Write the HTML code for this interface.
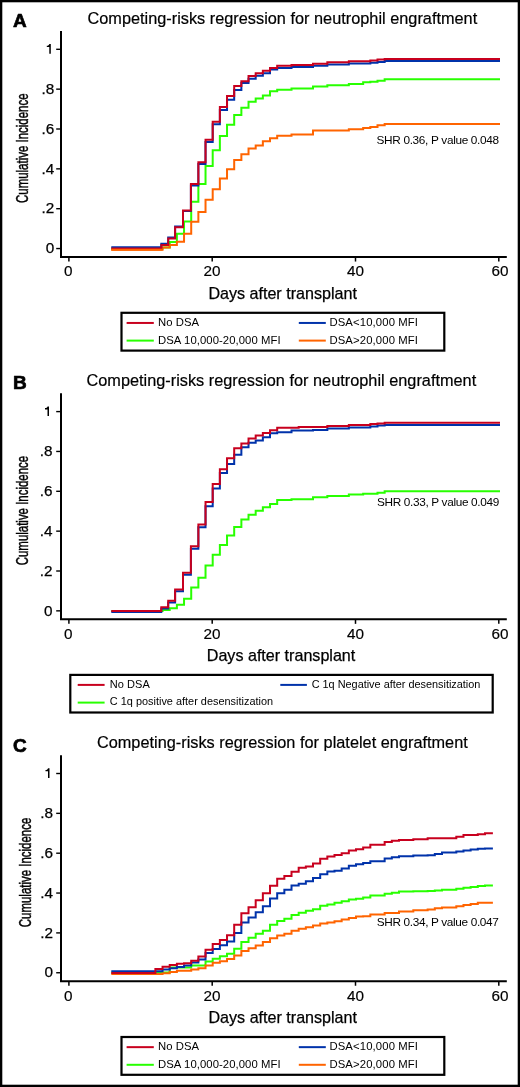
<!DOCTYPE html>
<html><head><meta charset="utf-8"><title>Competing-risks regression</title>
<style>
html,body{margin:0;padding:0;background:#fff;}
body{width:520px;height:1087px;overflow:hidden;}
svg{display:block;will-change:transform;}
svg text{font-family:"Liberation Sans", sans-serif;fill:#000;}
</style></head>
<body>
<svg width="520" height="1087" viewBox="0 0 520 1087">
<rect x="0" y="0" width="520" height="1087" fill="#fff"/>
<rect x="1.15" y="1.15" width="517.7" height="1084.7" fill="none" stroke="#000" stroke-width="2.3"/>
<text x="12.95" y="26.9" font-size="19" font-weight="bold" stroke="#000" stroke-width="0.7" stroke-linejoin="round">A</text>
<text x="13.1" y="389.1" font-size="19" font-weight="bold" stroke="#000" stroke-width="0.7" stroke-linejoin="round">B</text>
<text x="13.0" y="751.55" font-size="19" font-weight="bold" stroke="#000" stroke-width="0.7" stroke-linejoin="round">C</text>
<text x="87.5" y="24.1" font-size="16.3" textLength="389.7" stroke="#000" stroke-width="0.2">Competing-risks regression for neutrophil engraftment</text>
<text x="86.5" y="386.4" font-size="16.3" textLength="389.7" stroke="#000" stroke-width="0.2">Competing-risks regression for neutrophil engraftment</text>
<text x="96.9" y="748.2" font-size="16.3" textLength="370.9" stroke="#000" stroke-width="0.2">Competing-risks regression for platelet engraftment</text>
<path d="M61,31.00V256.95H506.8" fill="none" stroke="#000" stroke-width="2" stroke-linejoin="miter" stroke-linecap="butt"/>
<line x1="56.2" y1="49.30" x2="60.5" y2="49.30" stroke="#000" stroke-width="1.4"/>
<path transform="translate(54.0,53.80)" d="M-3.2,-9.7V0H-4.7V-6.7H-7.2V-8.0L-6.2,-8.1L-5.2,-8.7L-4.6,-9.7Z" fill="#000"/>
<line x1="56.2" y1="89.15" x2="60.5" y2="89.15" stroke="#000" stroke-width="1.4"/>
<text transform="translate(54.20,93.85)" text-anchor="end" font-size="15.3" stroke="#000" stroke-width="0.25">.8</text>
<line x1="56.2" y1="129.00" x2="60.5" y2="129.00" stroke="#000" stroke-width="1.4"/>
<text transform="translate(54.20,133.70)" text-anchor="end" font-size="15.3" stroke="#000" stroke-width="0.25">.6</text>
<line x1="56.2" y1="168.85" x2="60.5" y2="168.85" stroke="#000" stroke-width="1.4"/>
<text transform="translate(54.20,173.55)" text-anchor="end" font-size="15.3" stroke="#000" stroke-width="0.25">.4</text>
<line x1="56.2" y1="208.70" x2="60.5" y2="208.70" stroke="#000" stroke-width="1.4"/>
<text transform="translate(54.20,213.40)" text-anchor="end" font-size="15.3" stroke="#000" stroke-width="0.25">.2</text>
<line x1="56.2" y1="248.55" x2="60.5" y2="248.55" stroke="#000" stroke-width="1.4"/>
<text transform="translate(54.20,253.25)" text-anchor="end" font-size="15.3" stroke="#000" stroke-width="0.25">0</text>
<line x1="68.90" y1="257.45" x2="68.90" y2="261.55" stroke="#000" stroke-width="1.5"/>
<text transform="translate(68.15,276.35)" text-anchor="middle" font-size="15.3" stroke="#000" stroke-width="0.18">0</text>
<line x1="212.20" y1="257.45" x2="212.20" y2="261.55" stroke="#000" stroke-width="1.5"/>
<text transform="translate(212.00,276.35)" text-anchor="middle" font-size="15.3" stroke="#000" stroke-width="0.18">20</text>
<line x1="355.50" y1="257.45" x2="355.50" y2="261.55" stroke="#000" stroke-width="1.5"/>
<text transform="translate(355.55,276.35)" text-anchor="middle" font-size="15.3" stroke="#000" stroke-width="0.18">40</text>
<line x1="498.80" y1="257.45" x2="498.80" y2="261.55" stroke="#000" stroke-width="1.5"/>
<text transform="translate(499.95,276.35)" text-anchor="middle" font-size="15.3" stroke="#000" stroke-width="0.18">60</text>
<text x="208.4" y="298.90" font-size="16.1" stroke="#000" stroke-width="0.25">Days after transplant</text>
<text transform="translate(27.9,148.25) rotate(-90)" x="0" y="0" text-anchor="middle" font-size="17.3" textLength="109.5" lengthAdjust="spacingAndGlyphs" stroke="#000" stroke-width="0.45">Cumulative Incidence</text>
<path d="M61,393.30V619.25H506.8" fill="none" stroke="#000" stroke-width="2" stroke-linejoin="miter" stroke-linecap="butt"/>
<line x1="56.2" y1="411.60" x2="60.5" y2="411.60" stroke="#000" stroke-width="1.4"/>
<path transform="translate(52.2,416.10)" d="M-3.2,-9.7V0H-4.7V-6.7H-7.2V-8.0L-6.2,-8.1L-5.2,-8.7L-4.6,-9.7Z" fill="#000"/>
<line x1="56.2" y1="451.45" x2="60.5" y2="451.45" stroke="#000" stroke-width="1.4"/>
<text transform="translate(52.40,456.15)" text-anchor="end" font-size="15.3" stroke="#000" stroke-width="0.25">.8</text>
<line x1="56.2" y1="491.30" x2="60.5" y2="491.30" stroke="#000" stroke-width="1.4"/>
<text transform="translate(52.40,496.00)" text-anchor="end" font-size="15.3" stroke="#000" stroke-width="0.25">.6</text>
<line x1="56.2" y1="531.15" x2="60.5" y2="531.15" stroke="#000" stroke-width="1.4"/>
<text transform="translate(52.40,535.85)" text-anchor="end" font-size="15.3" stroke="#000" stroke-width="0.25">.4</text>
<line x1="56.2" y1="571.00" x2="60.5" y2="571.00" stroke="#000" stroke-width="1.4"/>
<text transform="translate(52.40,575.70)" text-anchor="end" font-size="15.3" stroke="#000" stroke-width="0.25">.2</text>
<line x1="56.2" y1="610.85" x2="60.5" y2="610.85" stroke="#000" stroke-width="1.4"/>
<text transform="translate(52.40,615.55)" text-anchor="end" font-size="15.3" stroke="#000" stroke-width="0.25">0</text>
<line x1="68.90" y1="619.75" x2="68.90" y2="623.85" stroke="#000" stroke-width="1.5"/>
<text transform="translate(68.15,638.65)" text-anchor="middle" font-size="15.3" stroke="#000" stroke-width="0.18">0</text>
<line x1="212.20" y1="619.75" x2="212.20" y2="623.85" stroke="#000" stroke-width="1.5"/>
<text transform="translate(212.00,638.65)" text-anchor="middle" font-size="15.3" stroke="#000" stroke-width="0.18">20</text>
<line x1="355.50" y1="619.75" x2="355.50" y2="623.85" stroke="#000" stroke-width="1.5"/>
<text transform="translate(355.55,638.65)" text-anchor="middle" font-size="15.3" stroke="#000" stroke-width="0.18">40</text>
<line x1="498.80" y1="619.75" x2="498.80" y2="623.85" stroke="#000" stroke-width="1.5"/>
<text transform="translate(499.95,638.65)" text-anchor="middle" font-size="15.3" stroke="#000" stroke-width="0.18">60</text>
<text x="206.8" y="661.20" font-size="16.1" stroke="#000" stroke-width="0.25">Days after transplant</text>
<text transform="translate(27.9,510.55) rotate(-90)" x="0" y="0" text-anchor="middle" font-size="17.3" textLength="109.5" lengthAdjust="spacingAndGlyphs" stroke="#000" stroke-width="0.45">Cumulative Incidence</text>
<path d="M61,755.20V981.15H506.8" fill="none" stroke="#000" stroke-width="2" stroke-linejoin="miter" stroke-linecap="butt"/>
<line x1="56.2" y1="773.50" x2="60.5" y2="773.50" stroke="#000" stroke-width="1.4"/>
<path transform="translate(52.7,778.00)" d="M-3.2,-9.7V0H-4.7V-6.7H-7.2V-8.0L-6.2,-8.1L-5.2,-8.7L-4.6,-9.7Z" fill="#000"/>
<line x1="56.2" y1="813.35" x2="60.5" y2="813.35" stroke="#000" stroke-width="1.4"/>
<text transform="translate(52.90,818.05)" text-anchor="end" font-size="15.3" stroke="#000" stroke-width="0.25">.8</text>
<line x1="56.2" y1="853.20" x2="60.5" y2="853.20" stroke="#000" stroke-width="1.4"/>
<text transform="translate(52.90,857.90)" text-anchor="end" font-size="15.3" stroke="#000" stroke-width="0.25">.6</text>
<line x1="56.2" y1="893.05" x2="60.5" y2="893.05" stroke="#000" stroke-width="1.4"/>
<text transform="translate(52.90,897.75)" text-anchor="end" font-size="15.3" stroke="#000" stroke-width="0.25">.4</text>
<line x1="56.2" y1="932.90" x2="60.5" y2="932.90" stroke="#000" stroke-width="1.4"/>
<text transform="translate(52.90,937.60)" text-anchor="end" font-size="15.3" stroke="#000" stroke-width="0.25">.2</text>
<line x1="56.2" y1="972.75" x2="60.5" y2="972.75" stroke="#000" stroke-width="1.4"/>
<text transform="translate(52.90,977.45)" text-anchor="end" font-size="15.3" stroke="#000" stroke-width="0.25">0</text>
<line x1="68.90" y1="981.65" x2="68.90" y2="985.75" stroke="#000" stroke-width="1.5"/>
<text transform="translate(68.15,1000.55)" text-anchor="middle" font-size="15.3" stroke="#000" stroke-width="0.18">0</text>
<line x1="212.20" y1="981.65" x2="212.20" y2="985.75" stroke="#000" stroke-width="1.5"/>
<text transform="translate(212.00,1000.55)" text-anchor="middle" font-size="15.3" stroke="#000" stroke-width="0.18">20</text>
<line x1="355.50" y1="981.65" x2="355.50" y2="985.75" stroke="#000" stroke-width="1.5"/>
<text transform="translate(355.55,1000.55)" text-anchor="middle" font-size="15.3" stroke="#000" stroke-width="0.18">40</text>
<line x1="498.80" y1="981.65" x2="498.80" y2="985.75" stroke="#000" stroke-width="1.5"/>
<text transform="translate(499.95,1000.55)" text-anchor="middle" font-size="15.3" stroke="#000" stroke-width="0.18">60</text>
<text x="208.5" y="1023.10" font-size="16.1" stroke="#000" stroke-width="0.25">Days after transplant</text>
<text transform="translate(31.4,872.45) rotate(-90)" x="0" y="0" text-anchor="middle" font-size="17.3" textLength="109.5" lengthAdjust="spacingAndGlyphs" stroke="#000" stroke-width="0.45">Cumulative Incidence</text>
<text x="376.5" y="144.3" font-size="11.8" textLength="122.6" lengthAdjust="spacing">SHR 0.36, P value 0.048</text>
<text x="376.9" y="505.7" font-size="11.8" textLength="122.4" lengthAdjust="spacing">SHR 0.33, P value 0.049</text>
<text x="376.8" y="926.3" font-size="11.8" textLength="122.0" lengthAdjust="spacing">SHR 0.34, P value 0.047</text>
<g fill="none" stroke-width="2" stroke-linejoin="miter" stroke-linecap="butt">
<path d="M111.30,248.60H162.55V247.60H169.71V241.90H176.88V233.80H184.04V221.50H191.21V201.70H198.37V184.00H205.53V166.00H212.70V150.30H219.87V135.90H227.03V124.80H234.19V115.00H241.36V107.80H248.53V101.70H255.69V98.60H262.86V95.60H270.02V91.20H277.19V89.70H291.51V88.50H313.01V86.50H327.34V85.20H348.84V83.90H363.16V82.30H370.33V81.80H377.50V80.70H384.66V79.15H500.00" stroke="#28ff00"/>
<path d="M111.30,249.80H162.55V247.50H169.71V245.10H176.88V241.80H184.04V233.80H191.21V221.70H198.37V212.10H205.53V199.80H212.70V189.20H219.87V178.40H227.03V169.30H234.19V160.00H241.36V154.20H248.53V148.50H255.69V145.40H262.86V141.20H270.02V138.20H277.19V135.80H291.51V134.40H313.01V130.40H348.84V129.20H363.16V128.10H370.33V127.00H377.50V125.20H384.66V124.10H500.00" stroke="#ff6400"/>
<path d="M111.30,247.20H161.30V243.80H168.20V237.50H175.10V226.50H183.00V211.00H190.90V185.60H198.37V164.00H205.53V141.90H212.70V124.20H219.87V110.00H227.03V99.80H234.19V90.00H241.36V83.00H248.53V78.70H255.69V75.80H262.86V73.20H270.02V69.50H277.19V68.00H291.51V66.90H313.01V65.70H327.34V64.40H348.84V63.50H370.33V62.80H377.50V62.00H384.66V61.00H500.00" stroke="#0032aa"/>
<path d="M111.30,248.60H161.30V244.90H168.20V238.50H175.10V227.20H183.00V210.50H190.90V184.00H198.37V162.30H205.53V139.70H212.70V121.70H219.87V106.90H227.03V96.00H234.19V85.90H241.36V81.30H248.53V76.10H255.69V73.20H262.86V70.70H270.02V68.00H277.19V65.80H291.51V65.00H313.01V63.80H327.34V62.30H348.84V61.20H370.33V60.50H377.50V59.50H384.66V58.90H500.00" stroke="#c8001e"/>
<path d="M111.3,249.8H162.55" stroke="#ff6400"/>
<path d="M111.30,611.00H162.55V610.10H169.71V608.20H176.88V604.80H184.04V598.80H191.21V587.50H198.37V577.70H205.53V565.40H212.70V554.80H219.87V545.00H227.03V535.50H234.19V527.10H241.36V519.60H248.53V514.70H255.69V510.80H262.86V507.30H270.02V503.90H277.19V500.00H291.51V499.20H313.01V497.30H327.34V496.00H348.84V494.60H363.16V493.70H377.50V492.70H384.66V491.30H500.00" stroke="#28ff00"/>
<path d="M111.30,612.00H161.30V608.50H168.20V602.40H175.10V591.20H183.00V574.80H190.90V548.80H198.37V527.30H205.53V506.30H212.70V488.50H219.87V473.00H227.03V463.90H234.19V454.70H241.36V447.30H248.53V442.70H255.69V440.40H262.86V437.30H270.02V433.20H277.19V432.20H291.51V430.60H313.01V430.00H327.34V428.50H348.84V427.50H370.33V426.40H377.50V425.40H384.66V424.95H500.00" stroke="#0032aa"/>
<path d="M111.30,610.90H161.30V607.20H168.20V600.80H175.10V589.50H183.00V572.80H190.90V546.30H198.37V524.60H205.53V502.00H212.70V484.00H219.87V469.20H227.03V458.30H234.19V448.20H241.36V443.60H248.53V438.40H255.69V435.50H262.86V433.00H270.02V430.30H277.19V427.70H298.68V427.10H327.34V426.10H348.84V425.00H370.33V424.10H377.50V423.40H384.66V422.80H500.00" stroke="#c8001e"/>
<path d="M111.30,972.50H169.71V967.50H191.21V965.40H205.53V961.50H212.70V958.80H219.87V956.20H227.03V953.80H234.19V948.70H241.36V942.00H248.53V937.70H255.69V933.80H262.86V930.80H270.02V924.80H277.19V921.00H284.35V918.70H291.51V915.00H298.68V912.70H305.85V910.70H313.01V909.20H320.18V905.80H327.34V904.50H334.50V902.70H341.67V901.20H348.84V899.60H356.00V898.80H363.16V897.40H370.33V895.60H384.66V893.80H391.83V892.70H398.99V891.60H413.32V891.20H427.65V890.90H434.82V890.40H441.98V889.70H456.31V888.80H463.48V887.80H470.64V886.90H477.81V886.00H484.97V885.60H492.90" stroke="#28ff00"/>
<path d="M111.30,974.00H162.55V973.30H169.71V972.00H176.88V970.70H191.21V969.40H198.37V968.20H205.53V965.40H212.70V962.80H219.87V961.30H227.03V959.00H234.19V955.60H241.36V951.00H248.53V948.30H255.69V945.40H262.86V942.10H270.02V938.30H277.19V935.40H284.35V933.70H291.51V930.80H298.68V928.70H305.85V927.30H313.01V925.50H320.18V923.50H327.34V922.40H334.50V921.20H341.67V919.60H348.84V918.10H356.00V916.50H363.16V916.20H370.33V914.60H384.66V912.90H398.99V911.40H413.32V910.20H427.65V909.40H434.82V908.20H441.98V907.40H456.31V906.20H463.48V904.90H470.64V904.00H477.81V902.70H492.90" stroke="#ff6400"/>
<path d="M111.30,971.30H162.55V969.50H169.71V968.30H176.88V967.00H184.04V965.40H191.21V962.50H198.37V959.60H205.53V952.90H212.70V949.00H219.87V945.20H227.03V941.40H234.19V933.10H241.36V922.60H248.53V917.60H255.69V912.30H262.86V906.30H270.02V898.50H277.19V893.30H284.35V889.80H291.51V885.40H298.68V883.70H305.85V881.20H313.01V878.10H320.18V874.20H327.34V871.50H334.50V870.70H341.67V868.50H348.84V865.80H356.00V864.20H363.16V862.90H370.33V861.20H384.66V858.50H391.83V857.30H398.99V856.20H413.32V855.60H427.65V855.20H434.82V853.90H441.98V852.60H456.31V851.40H463.48V850.40H470.64V849.50H477.81V848.80H484.97V848.60H492.90" stroke="#0032aa"/>
<path d="M111.30,972.90H155.38V969.00H162.55V966.70H169.71V965.10H176.88V963.80H184.04V963.20H191.21V960.80H198.37V956.50H205.53V949.80H212.70V944.00H219.87V940.00H227.03V935.20H234.19V924.70H241.36V913.30H248.53V907.30H255.69V900.20H262.86V893.30H270.02V885.80H277.19V878.80H284.35V876.00H291.51V871.80H298.68V867.80H305.85V866.50H313.01V863.50H320.18V858.80H327.34V856.50H334.50V855.00H341.67V853.20H348.84V850.40H356.00V849.20H363.16V847.50H370.33V844.80H384.66V841.90H391.83V840.80H398.99V840.10H413.32V839.30H427.65V838.30H456.31V836.80H463.48V835.10H477.81V834.20H484.97V833.20H492.90" stroke="#c8001e"/>
</g>
<rect x="121.5" y="312.80" width="322.8" height="37.8" fill="none" stroke="#000" stroke-width="2.2"/>
<line x1="126.6" y1="322.95" x2="153.8" y2="322.95" stroke="#c8001e" stroke-width="2"/>
<line x1="126.6" y1="340.60" x2="153.8" y2="340.60" stroke="#28ff00" stroke-width="2"/>
<line x1="298.8" y1="322.95" x2="325.8" y2="322.95" stroke="#0032aa" stroke-width="2"/>
<line x1="298.8" y1="340.60" x2="325.8" y2="340.60" stroke="#ff6400" stroke-width="2"/>
<text x="158" y="326.10" font-size="11.3" textLength="41">No DSA</text>
<text x="158" y="344.00" font-size="11.3" textLength="122.6">DSA 10,000-20,000 MFI</text>
<text x="329.4" y="326.10" font-size="11.3" textLength="88.6">DSA&lt;10,000 MFI</text>
<text x="329.4" y="344.00" font-size="11.3" textLength="88.6">DSA&gt;20,000 MFI</text>
<rect x="70.3" y="674.9" width="422.4" height="37.6" fill="none" stroke="#000" stroke-width="2.2"/>
<line x1="77.7" y1="684.9" x2="104.6" y2="684.9" stroke="#c8001e" stroke-width="2"/>
<line x1="77.7" y1="702.6" x2="104.6" y2="702.6" stroke="#28ff00" stroke-width="2"/>
<line x1="280.3" y1="684.9" x2="306.9" y2="684.9" stroke="#0032aa" stroke-width="2"/>
<text x="109.8" y="688.2" font-size="11" textLength="40">No DSA</text>
<text x="109.85" y="705.4" font-size="10.9" textLength="163.2">C 1q positive after desensitization</text>
<text x="311.65" y="688.2" font-size="10.9" textLength="168.75">C 1q Negative after desensitization</text>
<rect x="121.5" y="1037.00" width="322.8" height="37.8" fill="none" stroke="#000" stroke-width="2.2"/>
<line x1="126.6" y1="1047.15" x2="153.8" y2="1047.15" stroke="#c8001e" stroke-width="2"/>
<line x1="126.6" y1="1064.80" x2="153.8" y2="1064.80" stroke="#28ff00" stroke-width="2"/>
<line x1="298.8" y1="1047.15" x2="325.8" y2="1047.15" stroke="#0032aa" stroke-width="2"/>
<line x1="298.8" y1="1064.80" x2="325.8" y2="1064.80" stroke="#ff6400" stroke-width="2"/>
<text x="158" y="1050.30" font-size="11.3" textLength="41">No DSA</text>
<text x="158" y="1068.20" font-size="11.3" textLength="122.6">DSA 10,000-20,000 MFI</text>
<text x="329.4" y="1050.30" font-size="11.3" textLength="88.6">DSA&lt;10,000 MFI</text>
<text x="329.4" y="1068.20" font-size="11.3" textLength="88.6">DSA&gt;20,000 MFI</text>
</svg>
</body></html>
